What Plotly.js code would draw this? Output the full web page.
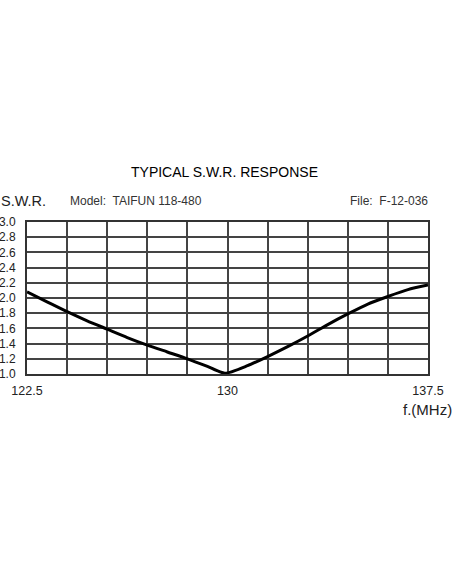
<!DOCTYPE html>
<html>
<head>
<meta charset="utf-8">
<script src="https://cdn.plot.ly/plotly-3.0.1.min.js"></script>
<style>
  body { margin: 0; background: #fff; }
  #swrplot { width: 452px; height: 584px; }
</style>
</head>
<body>
<div id="swrplot"></div>
<script>
// Frequency (MHz) and S.W.R.
var freqs = [122.5, 123.25, 124, 124.75, 125.5, 126.25, 127, 127.75, 128.5, 129.25, 129.9,
             130.75, 131.5, 132.25, 133, 133.75, 134.5, 135.25, 136, 136.75, 137.5];
var swr = [2.08, 1.95, 1.82, 1.70, 1.59, 1.48, 1.38, 1.29, 1.20, 1.10, 1.01,
           1.11, 1.23, 1.36, 1.50, 1.65, 1.79, 1.92, 2.02, 2.11, 2.17];

// Grid columns every 1.5 MHz, only three of them labelled
var xTickVals = [122.5, 124, 125.5, 127, 128.5, 130, 131.5, 133, 134.5, 136, 137.5];
var xTickText = ['122.5', '', '', '', '', '130', '', '', '', '', '137.5'];

var plain = 'Liberation Sans, Arial, sans-serif';

var trace = {
    type: 'scatter',
    mode: 'lines',
    x: freqs,
    y: swr,
    line: {color: '#000', width: 3, shape: 'spline', smoothing: 0.6},
    hoverinfo: 'skip'
};

// plot area is 401 px wide, so 1 paper unit = 401 px
function px(p) { return (p - 27) / 401; }

var layout = {
    width: 452,
    height: 584,
    margin: {l: 27, r: 24, t: 222, b: 210},
    paper_bgcolor: '#fff',
    plot_bgcolor: '#fff',
    showlegend: false,
    xaxis: {
        range: [122.5, 137.5],
        tickmode: 'array',
        tickvals: xTickVals,
        ticktext: xTickText,
        ticks: 'outside',
        ticklen: 4,
        tickcolor: 'rgba(0,0,0,0)',
        showgrid: true,
        gridcolor: '#444',
        gridwidth: 2,
        showline: true,
        linecolor: '#333',
        linewidth: 2,
        mirror: true,
        zeroline: false,
        tickfont: {family: plain, size: 12.5, color: '#222'}
    },
    yaxis: {
        range: [1, 3],
        tickmode: 'linear',
        tick0: 1,
        dtick: 0.2,
        tickformat: '.1f',
        ticks: 'outside',
        ticklen: 7,
        tickcolor: 'rgba(0,0,0,0)',
        showgrid: true,
        gridcolor: '#444',
        gridwidth: 2,
        showline: true,
        linecolor: '#333',
        linewidth: 2,
        mirror: true,
        zeroline: false,
        tickfont: {family: plain, size: 12, color: '#222'}
    },
    annotations: [
        {text: 'TYPICAL S.W.R. RESPONSE', xref: 'paper', yref: 'paper',
         x: px(224.5), y: 1, yshift: 50, xanchor: 'center', yanchor: 'middle',
         showarrow: false, font: {family: plain, size: 14, color: '#000'}},
        {text: 'S.W.R.', xref: 'paper', yref: 'paper',
         x: px(-1), y: 1, yshift: 21, xanchor: 'left', yanchor: 'middle',
         showarrow: false, font: {family: plain, size: 14.5, color: '#222'}},
        {text: 'Model:  TAIFUN 118-480', xref: 'paper', yref: 'paper',
         x: px(68), y: 1, yshift: 21, xanchor: 'left', yanchor: 'middle',
         showarrow: false, font: {family: plain, size: 12, color: '#333'}},
        {text: 'File:  F-12-036', xref: 'paper', yref: 'paper',
         x: px(430), y: 1, yshift: 21, xanchor: 'right', yanchor: 'middle',
         showarrow: false, font: {family: plain, size: 12, color: '#333'}},
        {text: 'f.(MHz)', xref: 'paper', yref: 'paper',
         x: px(454), y: 0, yshift: -35, xanchor: 'right', yanchor: 'middle',
         showarrow: false, font: {family: plain, size: 15, color: '#222'}}
    ]
};

Plotly.newPlot('swrplot', [trace], layout, {staticPlot: true, displayModeBar: false});
</script>
</body>
</html>
